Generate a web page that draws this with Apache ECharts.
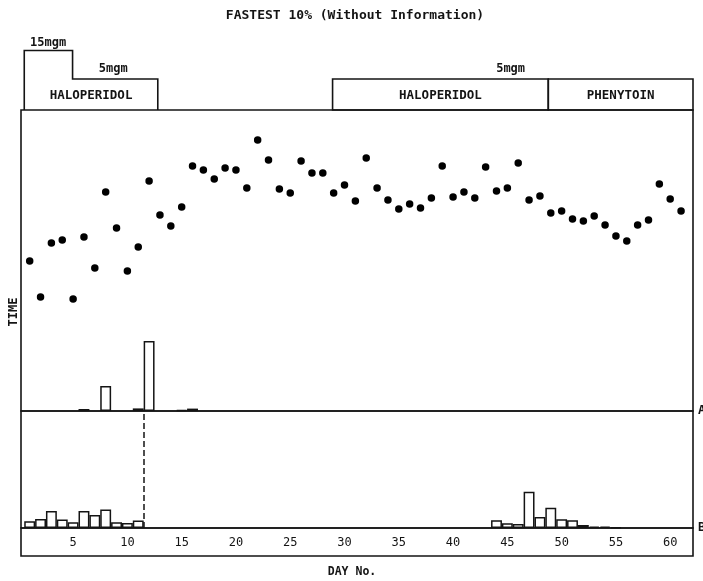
<!DOCTYPE html>
<html>
<head>
<meta charset="utf-8">
<script src="https://cdn.jsdelivr.net/npm/echarts@6/dist/echarts.min.js"></script>
<style>
  html, body { margin: 0; padding: 0; background: #fff; }
  #chart { width: 703px; height: 581px; }
</style>
</head>
<body>
<div id="chart"></div>
<script>
// Day numbers and the mean of the fastest 10% of response times for each day
const dayNo = [1, 2, 3, 4, 5, 6, 7, 8, 9, 10, 11, 12, 13, 14, 15, 16, 17, 18, 19, 20,
  21, 22, 23, 24, 25, 26, 27, 28, 29, 30, 31, 32, 33, 34, 35, 36, 37, 38, 39, 40,
  41, 42, 43, 44, 45, 46, 47, 48, 49, 50, 51, 52, 53, 54, 55, 56, 57, 58, 59, 60, 61];
const fastestTime = [15.0, 11.4, 16.8, 17.1, 11.2, 17.4, 14.3, 21.9, 18.3, 14.0,
  16.4, 23.0, 19.6, 18.5, 20.4, 24.5, 24.1, 23.2, 24.3, 24.1,
  22.3, 27.1, 25.1, 22.2, 21.8, 25.0, 23.8, 23.8, 21.8, 22.6,
  21.0, 25.3, 22.3, 21.1, 20.2, 20.7, 20.3, 21.3, 24.5, 21.4,
  21.9, 21.3, 24.4, 22.0, 22.3, 24.8, 21.1, 21.5, 19.8, 20.0,
  19.2, 19.0, 19.5, 18.6, 17.5, 17.0, 18.6, 19.1, 22.7, 21.2, 20.0];

// Histogram A (upper baseline)
const histADays = [6, 8, 11, 12, 15, 16];
const histAValues = [1.0, 12.5, 1.3, 35.0, 0.5, 1.2];

// Histogram B (lower baseline)
const histBDays = [1, 2, 3, 4, 5, 6, 7, 8, 9, 10, 11,
  44, 45, 46, 47, 48, 49, 50, 51, 52, 53, 54, 55];
const histBValues = [3.35, 4.5, 8.5, 4.2, 2.85, 8.5, 6.5, 9.2, 2.85, 2.5, 3.7,
  3.85, 2.35, 2.0, 18.15, 5.5, 10.15, 4.35, 3.85, 1.5, 0.75, 0.75, 0.35];

// Day axis labels
const dayTicks = [5, 10, 15, 20, 25, 30, 35, 40, 45, 50, 55, 60];

// Drug regimens (in day units)
const regimenNames = ['HALOPERIDOL', 'HALOPERIDOL', 'PHENYTOIN'];
const regimenStart = [0.5, 28.9, 48.77];
const regimenEnd = [12.8, 48.77, 62.1];
const highDoseStart = 0.5;
const highDoseEnd = 4.95;
const doseNames = ['15mgm', '5mgm', '5mgm'];
const doseLabelDay = [2.7, 8.7, 45.3];

const DAY_MIN = 0.2, DAY_MAX = 62.1;
const INK = '#141414';
const FONT = '"DejaVu Sans Mono", monospace';

const chart = echarts.init(document.getElementById('chart'), null, { renderer: 'canvas' });

const gridBase = { left: 21, right: 10, show: true, borderColor: INK, borderWidth: 1.6, backgroundColor: 'transparent' };
function dayAxis(gridIndex, showLabels) {
  return {
    type: 'value', gridIndex, min: DAY_MIN, max: DAY_MAX,
    splitLine: { show: false },
    axisLine: { show: false },
    axisTick: { show: false },
    position: 'bottom',
    axisLabel: showLabels ? {
      show: true, inside: true, margin: 7, customValues: dayTicks,
      color: INK, fontSize: 12, fontFamily: FONT
    } : { show: false }
  };
}

const option = {
  backgroundColor: '#fff',
  animation: false,
  grid: [
    Object.assign({ top: 110, height: 301 }, gridBase),
    Object.assign({ top: 411, height: 117 }, gridBase),
    Object.assign({ top: 528, height: 28 }, gridBase)
  ],
  xAxis: [dayAxis(0, false), dayAxis(1, false), dayAxis(2, true)],
  yAxis: [
    { type: 'value', gridIndex: 0, min: 0, max: 30.1, show: false },
    { type: 'value', gridIndex: 0, min: 0, max: 150.5, show: false },
    { type: 'value', gridIndex: 1, min: 0, max: 58.5, show: false },
    { type: 'value', gridIndex: 2, min: 0, max: 1, show: false }
  ],
  series: [
    {
      name: 'Fastest 10%', type: 'scatter', xAxisIndex: 0, yAxisIndex: 0,
      symbol: 'circle', symbolSize: 7.5,
      itemStyle: { color: '#000', opacity: 1 },
      data: dayNo.map((d, i) => [d, fastestTime[i]])
    },
    {
      name: 'A', type: 'bar', xAxisIndex: 0, yAxisIndex: 1,
      barWidth: 10.9,
      itemStyle: { color: '#fff', borderColor: INK, borderWidth: 1.5 },
      data: histADays.map((d, i) => [d, histAValues[i]])
    },
    {
      name: 'B', type: 'bar', xAxisIndex: 1, yAxisIndex: 2,
      barWidth: 10.9,
      itemStyle: { color: '#fff', borderColor: INK, borderWidth: 1.5 },
      data: histBDays.map((d, i) => [d, histBValues[i]]),
      markLine: {
        silent: true, symbol: 'none', label: { show: false },
        lineStyle: { color: INK, type: [6, 3], width: 1.5 },
        data: [{ xAxis: 11.5 }]
      }
    }
  ]
};
chart.setOption(option);

// Regimen boxes and text, placed along the day axis
const px = d => chart.convertToPixel({ xAxisIndex: 0 }, d);
const yBase = 110, yLow = 79, yHigh = 50.5;
const textStyle = (extra) => Object.assign({ fill: INK, fontFamily: FONT, fontWeight: 'bold', fontSize: 12, align: 'center', verticalAlign: 'middle' }, extra);
const elements = [];

// first haloperidol period: stepped outline (15mgm then 5mgm)
elements.push({
  type: 'polyline',
  shape: { points: [
    [px(highDoseStart), yBase], [px(highDoseStart), yHigh], [px(highDoseEnd), yHigh],
    [px(highDoseEnd), yLow], [px(regimenEnd[0]), yLow], [px(regimenEnd[0]), yBase]
  ] },
  style: { stroke: INK, lineWidth: 1.6, fill: null }
});
for (let i = 1; i < regimenNames.length; i++) {
  elements.push({
    type: 'rect',
    shape: { x: px(regimenStart[i]), y: yLow, width: px(regimenEnd[i]) - px(regimenStart[i]), height: yBase - yLow },
    style: { stroke: INK, lineWidth: 1.6, fill: null }
  });
}
regimenNames.forEach((name, i) => {
  elements.push({
    type: 'text', x: (px(regimenStart[i]) + px(regimenEnd[i])) / 2, y: 95.5,
    style: textStyle({ text: name, fontSize: 12.5 })
  });
});
doseNames.forEach((name, i) => {
  elements.push({
    type: 'text', x: px(doseLabelDay[i]), y: i === 0 ? 43 : 69,
    style: textStyle({ text: name, fontSize: 12 })
  });
});

// titles and axis names
elements.push({ type: 'text', x: 355, y: 16, style: textStyle({ text: 'FASTEST 10% (Without Information)', fontSize: 13 }) });
elements.push({ type: 'text', x: 352, y: 572, style: textStyle({ text: 'DAY No.', fontSize: 11.5 }) });
elements.push({ type: 'text', x: 14, y: 312, rotation: Math.PI / 2, style: textStyle({ text: 'TIME', fontSize: 12 }) });
// baseline markers
elements.push({ type: 'text', x: 698, y: 411, style: textStyle({ text: 'A', align: 'left', fontSize: 12.5 }) });
elements.push({ type: 'text', x: 698, y: 528, style: textStyle({ text: 'B', align: 'left', fontSize: 12.5 }) });

chart.setOption({ graphic: { elements } });
</script>
</body>
</html>
